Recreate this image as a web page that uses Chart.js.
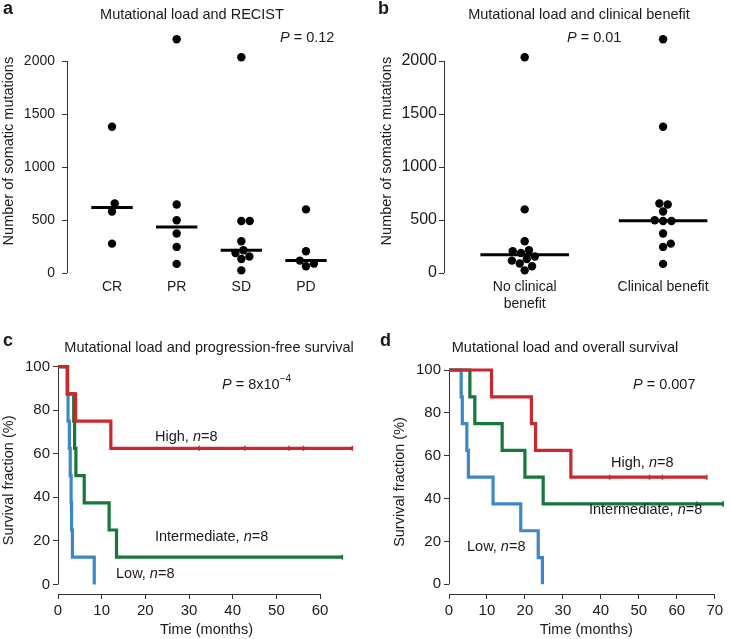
<!DOCTYPE html>
<html>
<head>
<meta charset="utf-8">
<script src="https://cdn.jsdelivr.net/npm/chart.js@4.4.1/dist/chart.umd.min.js"></script>
<style>
  body { margin: 0; background: #fff; width: 729px; height: 639px; position: relative; overflow: hidden; }
  canvas { position: absolute; }
</style>
</head>
<body>
<canvas id="chartC" style="left:0;top:300px" width="365" height="339"></canvas>
<canvas id="chartD" style="left:365px;top:300px" width="364" height="339"></canvas>
<canvas id="chartA" style="left:0;top:0" width="365" height="300"></canvas>
<canvas id="chartB" style="left:365px;top:0" width="364" height="315"></canvas>
<script>
// ---- data ----
// a: mutational load by RECIST response
const recistCats = ['CR', 'PR', 'SD', 'PD'];
const crLoad = [1380, 655, 580, 277];
const prLoad = [2205, 646, 498, 372, 246, 86];
const sdLoad = [2035, 490, 490, 299, 214, 189, 155, 132, 25];
const pdLoad = [600, 205, 117, 89, 63];

// b: mutational load by clinical benefit
const benefitCats = [['No clinical', 'benefit'], 'Clinical benefit'];
const noBenefitLoad = [2035, 600, 299, 214, 205, 189, 155, 132, 117, 89, 63, 25];
const benefitLoad = [2205, 1380, 655, 646, 580, 498, 490, 490, 372, 277, 246, 86];
const loadTicks = [0, 500, 1000, 1500, 2000];

// c: progression-free survival (months), events and censored times
const pfsHighEvents = [2.15, 4.05, 12.1];
const pfsHighCensored = [32.3, 42.8, 52.9, 56.2, 67.4];
const pfsMidEvents = [2.2, 3.6, 3.8, 4.1, 6.0, 11.7, 13.4];
const pfsMidCensored = [65.1];
const pfsLowEvents = [2.1, 2.3, 2.6, 2.8, 3.0, 3.1, 3.3, 8.3];
const pfsLowCensored = [];
const pfsTimeTicks = [0, 10, 20, 30, 40, 50, 60];

// d: overall survival (months)
const osHighEvents = [11.2, 21.7, 22.8, 32.1];
const osHighCensored = [42.3, 52.8, 56.2, 67.9];
const osMidEvents = [5.5, 6.8, 14.0, 20.0, 24.8];
const osMidCensored = [65.3, 72.2, 72.2];
const osLowEvents = [3.2, 3.5, 4.7, 5.1, 11.6, 18.9, 23.5, 24.6];
const osLowCensored = [];
const osTimeTicks = [0, 10, 20, 30, 40, 50, 60, 70];

const survTicks = [0, 20, 40, 60, 80, 100];

const RED = '#c8282e', GREEN = '#17763b', BLUE = '#3d86c8';
const AXIS = '#333';
const DOT_PX = 8.4;
const MED_HALF = 0.32;

Chart.defaults.font.family = "'Liberation Sans', Arial, Helvetica, sans-serif";
Chart.defaults.font.size = 14.5;
Chart.defaults.color = '#1a1a1a';
Chart.defaults.animation = false;
Chart.defaults.responsive = false;
Chart.defaults.plugins.legend.display = false;
Chart.defaults.plugins.tooltip.enabled = false;

// axis lines that only span the tick range (R style)
const axisLines = {
  id: 'axisLines',
  beforeDatasetsDraw(chart, args, opts) {
    const ctx = chart.ctx, area = chart.chartArea;
    const align = p => Math.round(p - 0.5) + 0.5;
    ctx.save();
    ctx.strokeStyle = AXIS;
    ctx.lineWidth = 1;
    if (opts.y) {
      const s = chart.scales.y, t = s.ticks;
      ctx.beginPath();
      ctx.moveTo(align(area.left), s.getPixelForValue(t[0].value));
      ctx.lineTo(align(area.left), s.getPixelForValue(t[t.length - 1].value));
      ctx.stroke();
    }
    if (opts.x) {
      const s = chart.scales.x, t = s.ticks;
      ctx.beginPath();
      ctx.moveTo(s.getPixelForValue(t[0].value), align(area.bottom));
      ctx.lineTo(s.getPixelForValue(t[t.length - 1].value), align(area.bottom));
      ctx.stroke();
    }
    ctx.restore();
  }
};

// text with italic / superscript runs
const richText = {
  id: 'richText',
  afterDraw(chart, args, opts) {
    const ctx = chart.ctx;
    const fam = Chart.defaults.font.family;
    (opts.items || []).forEach(item => {
      const size = item.size || 14.5;
      const fontOf = p => (p.italic ? 'italic ' : '') + (item.bold ? 'bold ' : '') +
        (p.sup ? Math.round(size * 0.68) : size) + 'px ' + fam;
      ctx.save();
      ctx.fillStyle = '#1a1a1a';
      ctx.textBaseline = 'middle';
      let w = 0;
      item.parts.forEach(p => { ctx.font = fontOf(p); w += ctx.measureText(p.t).width; });
      let x = item.align === 'center' ? item.x - w / 2 : item.x;
      item.parts.forEach(p => {
        ctx.font = fontOf(p);
        ctx.fillText(p.t, x, p.sup ? item.y - size * 0.38 : item.y);
        x += ctx.measureText(p.t).width;
      });
      ctx.restore();
    });
  }
};
Chart.register(axisLines, richText);

const median = arr => {
  const s = arr.slice().sort((a, b) => a - b), m = s.length >> 1;
  return s.length % 2 ? s[m] : (s[m - 1] + s[m]) / 2;
};

// simple beeswarm: each dot goes as close to the centre as it can without overlap
function swarm(values, idx, dotX, dotY) {
  const placed = [];
  values.slice().sort((a, b) => a - b).forEach(v => {
    const cands = [0];
    placed.forEach(p => {
      const dy = (v - p.v) / dotY;
      if (Math.abs(dy) < 1) {
        const dx = Math.sqrt(1 - dy * dy);
        cands.push(p.o + dx, p.o - dx);
      }
    });
    cands.sort((a, b) => Math.abs(a) - Math.abs(b) || b - a);
    const o = cands.find(c => placed.every(p => Math.hypot(c - p.o, (v - p.v) / dotY) >= 0.999));
    placed.push({ v, o });
  });
  return placed.map(p => ({ x: idx + p.o * dotX, y: p.v }));
}

// Kaplan-Meier estimate
function kaplanMeier(events, censored) {
  const all = events.map(t => ({ t, e: 1 })).concat(censored.map(t => ({ t, e: 0 })))
    .sort((a, b) => a.t - b.t || b.e - a.e);
  let n = all.length, s = 100;
  const pts = [{ x: 0, y: 100 }], marks = [];
  all.forEach(o => {
    if (o.e) s = s * (1 - 1 / n);
    else marks.push({ x: o.t, y: s });
    pts.push({ x: o.t, y: s });
    n--;
  });
  return { pts, marks };
}

const label = (x, y, parts, extra) => Object.assign({ x, y, parts }, extra || {});
const nLabel = name => [{ t: name + ', ' }, { t: 'n', italic: true }, { t: '=8' }];

// 0..2000 axis: 212 px tall in the reference
const LOAD_PX = 212 / 2000;
const LOAD_MAX = 2300;

function dotChart(id, cats, groups, o) {
  const dotX = DOT_PX / o.pxPerCat, dotY = DOT_PX / LOAD_PX;
  const datasets = groups.map((g, i) => ({
    data: [{ x: i - MED_HALF, y: median(g) }, { x: i + MED_HALF, y: median(g) }],
    borderColor: '#000', borderWidth: 3, pointRadius: 0, clip: false
  }));
  datasets.push({
    data: groups.flatMap((g, i) => swarm(g, i, dotX, dotY)),
    showLine: false, pointRadius: 4.2, pointBackgroundColor: '#000', pointBorderWidth: 0, clip: false
  });
  return new Chart(document.getElementById(id), {
    type: 'line',
    data: { datasets },
    options: {
      layout: { padding: o.pad },
      scales: {
        x: {
          type: 'linear', min: o.xMin, max: o.xMax,
          afterBuildTicks: s => { s.ticks = cats.map((c, i) => ({ value: i })); },
          ticks: { callback: v => cats[v], padding: 6, maxRotation: 0, autoSkip: false, font: { size: 14 } },
          grid: { display: false, drawTicks: false }, border: { display: false },
          afterFit: s => { s.height = o.xH; }
        },
        y: {
          min: 0, max: LOAD_MAX,
          afterBuildTicks: s => { s.ticks = loadTicks.map(v => ({ value: v })); },
          ticks: { callback: v => String(v), padding: o.tickPad, font: { size: o.tickSize } },
          grid: { drawOnChartArea: false, tickLength: 5, color: AXIS }, border: { display: false },
          title: { display: true, text: 'Number of somatic mutations', padding: 0 },
          afterFit: s => { s.width = o.yW; }
        }
      },
      plugins: { axisLines: { y: true }, richText: { items: o.texts } }
    }
  });
}

function kmChart(id, groups, o) {
  const datasets = [];
  groups.forEach(g => {
    const km = kaplanMeier(g.events, g.censored);
    datasets.push({
      data: km.marks, showLine: false, pointStyle: 'line', rotation: 90, pointRadius: 2.5,
      pointBorderColor: g.color, pointBorderWidth: 1.5, clip: false
    });
    datasets.push({
      data: km.pts, stepped: 'before', borderColor: g.color, borderWidth: 3.2, pointRadius: 0,
      borderJoinStyle: 'miter', clip: false
    });
  });
  return new Chart(document.getElementById(id), {
    type: 'line',
    data: { datasets },
    options: {
      layout: { padding: o.pad },
      scales: {
        x: {
          type: 'linear', min: 0, max: o.xMax,
          afterBuildTicks: s => { s.ticks = o.xTicks.map(v => ({ value: v })); },
          ticks: { padding: 3, maxRotation: 0, autoSkip: false, font: { size: 15 } },
          grid: { drawOnChartArea: false, tickLength: 5, color: AXIS }, border: { display: false },
          title: { display: true, text: 'Time (months)', padding: 0 },
          afterFit: s => { s.height = 45; }
        },
        y: {
          min: o.yMin, max: 100,
          afterBuildTicks: s => { s.ticks = survTicks.map(v => ({ value: v })); },
          ticks: { padding: 3, font: { size: 15 } },
          grid: { drawOnChartArea: false, tickLength: 5, color: AXIS }, border: { display: false },
          title: { display: true, text: 'Survival fraction (%)', padding: 0 },
          afterFit: s => { s.width = 58; }
        }
      },
      plugins: { axisLines: { x: true, y: true }, richText: { items: o.texts } }
    }
  });
}

const loadTop = 273 - LOAD_MAX * LOAD_PX;

dotChart('chartA', recistCats, [crLoad, prLoad, sdLoad, pdLoad], {
  pxPerCat: 64.67, xMin: -0.696, xMax: 3.696, xH: 27, yW: 67, tickPad: 7, tickSize: 14,
  pad: { top: loadTop, right: 14, left: 0, bottom: 0 },
  texts: [
    label(3, 9, [{ t: 'a' }], { bold: true, size: 18 }),
    label(192, 15, [{ t: 'Mutational load and RECIST' }], { align: 'center' }),
    label(280, 38, [{ t: 'P', italic: true }, { t: ' = 0.12' }])
  ]
});

dotChart('chartB', benefitCats, [noBenefitLoad, benefitLoad], {
  pxPerCat: 138.3, xMin: -0.583, xMax: 1.446, xH: 42, yW: 66, tickPad: 2, tickSize: 16,
  pad: { top: loadTop, right: 4, left: 13, bottom: 0 },
  texts: [
    label(13, 9, [{ t: 'b' }], { bold: true, size: 18 }),
    label(214, 15, [{ t: 'Mutational load and clinical benefit' }], { align: 'center' }),
    label(202, 38, [{ t: 'P', italic: true }, { t: ' = 0.01' }])
  ]
});

kmChart('chartC', [
  { events: pfsHighEvents, censored: pfsHighCensored, color: RED },
  { events: pfsMidEvents, censored: pfsMidCensored, color: GREEN },
  { events: pfsLowEvents, censored: pfsLowCensored, color: BLUE }
], {
  xMax: 68, xTicks: pfsTimeTicks, yMin: -4.4,
  pad: { top: 66.7, right: 10, left: 0, bottom: 0 },
  texts: [
    label(3, 41, [{ t: 'c' }], { bold: true, size: 18 }),
    label(209, 48, [{ t: 'Mutational load and progression-free survival' }], { align: 'center' }),
    label(222, 85, [{ t: 'P', italic: true }, { t: ' = 8x10' }, { t: '\u22124', sup: true }]),
    label(155, 137, nLabel('High')),
    label(155, 237, nLabel('Intermediate')),
    label(116, 274, nLabel('Low'))
  ]
});

kmChart('chartD', [
  { events: osHighEvents, censored: osHighCensored, color: RED },
  { events: osMidEvents, censored: osMidCensored, color: GREEN },
  { events: osLowEvents, censored: osLowCensored, color: BLUE }
], {
  xMax: 72.3, xTicks: osTimeTicks, yMin: -4.5,
  pad: { top: 70, right: 0, left: 26, bottom: 0 },
  texts: [
    label(15, 41, [{ t: 'd' }], { bold: true, size: 18 }),
    label(200, 48, [{ t: 'Mutational load and overall survival' }], { align: 'center' }),
    label(268, 85, [{ t: 'P', italic: true }, { t: ' = 0.007' }]),
    label(246, 163, nLabel('High')),
    label(224, 210, nLabel('Intermediate')),
    label(102, 247, nLabel('Low'))
  ]
});
</script>
</body>
</html>
